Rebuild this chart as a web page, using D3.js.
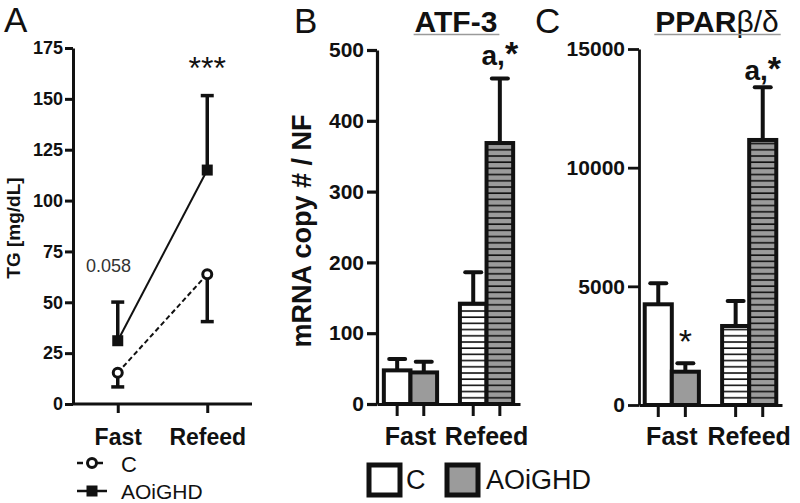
<!DOCTYPE html>
<html>
<head>
<meta charset="utf-8">
<script src="https://cdn.jsdelivr.net/npm/d3@7"></script>
<style>
  body { margin: 0; background: #fff; }
  svg, svg text { font-family: "Liberation Sans", Arial, sans-serif; }
</style>
</head>
<body>
<div id="chart"></div>
<script>
// groups and series
const groups = ["Fast", "Refeed"];
const series = ["C", "AOiGHD"];

// Panel A - TG [mg/dL], mean + error (C error points down, AOiGHD up)
const tgC = [15.4, 63.8];
const tgCErr = [7.0, 23.3];
const tgA = [31.1, 115.0];
const tgAErr = [19.0, 36.6];
const tgTicks = [0, 25, 50, 75, 100, 125, 150, 175];

// Panel B - ATF-3
const atfC = [47.5, 141.7];
const atfCErr = [16.0, 44.3];
const atfA = [44.6, 368.6];
const atfAErr = [15.1, 91.0];
const atfTicks = [0, 100, 200, 300, 400, 500];

// Panel C - PPARb/d
const pparC = [4243, 3329];
const pparCErr = [885, 1054];
const pparA = [1403, 11167];
const pparAErr = [354, 2221];
const pparTicks = [0, 5000, 10000, 15000];

const ink = "#111";
const grey = "#9b9b9b";

const svg = d3.select("#chart")
  .append("svg")
  .attr("width", 800)
  .attr("height", 503);

// hatch patterns for refeed bars
const defs = svg.append("defs");
[["hatchWhite", "#fff"], ["hatchGrey", grey]].forEach(([id, bg]) => {
  const p = defs.append("pattern")
    .attr("id", id)
    .attr("patternUnits", "userSpaceOnUse")
    .attr("width", 10)
    .attr("height", 6.2);
  p.append("rect").attr("width", 10).attr("height", 6.2).attr("fill", bg);
  p.append("line")
    .attr("x1", 0).attr("x2", 10)
    .attr("y1", 1).attr("y2", 1)
    .attr("stroke", ink).attr("stroke-width", 1.6);
});

function styleAxis(g, fontSize, sw) {
  g.attr("font-family", null).attr("font-size", null);
  g.select(".domain").attr("stroke", ink).attr("stroke-width", sw);
  g.selectAll(".tick line").attr("stroke", ink).attr("stroke-width", sw);
  g.selectAll(".tick text")
    .attr("fill", ink)
    .style("font-size", fontSize + "px")
    .style("font-weight", "bold");
}

// panel letters
[["A", 4, 32], ["B", 294, 33], ["C", 535, 33]].forEach(([t, x, y]) => {
  svg.append("text").attr("x", x).attr("y", y)
    .style("font-size", "35px").attr("fill", ink).text(t);
});

// ---------------- Panel A ----------------
const yA = d3.scaleLinear().domain([0, 175]).range([404, 48]);
const xA = d3.scalePoint().domain(groups).range([73, 252]).padding(0.5);

svg.append("g")
  .attr("transform", "translate(73,0)")
  .call(d3.axisLeft(yA).tickValues(tgTicks).tickSize(8).tickPadding(2).tickSizeOuter(0))
  .call(g => styleAxis(g, 18, 3));

svg.append("g")
  .attr("transform", "translate(0,404)")
  .call(d3.axisBottom(xA).tickSize(9).tickPadding(16).tickSizeOuter(0))
  .call(g => styleAxis(g, 23, 3))
  .call(g => g.select(".domain").attr("d", "M73,0H252"));

svg.append("text")
  .attr("transform", "translate(20,228) rotate(-90)")
  .attr("text-anchor", "middle")
  .style("font-size", "19px").style("font-weight", "bold")
  .attr("fill", ink)
  .text("TG [mg/dL]");

const lineA = d3.line().x((d, i) => xA(groups[i])).y(d => yA(d));

// error bars
function tgErr(vals, errs, dir) {
  vals.forEach((v, i) => {
    const x = xA(groups[i]);
    const y1 = yA(v + dir * errs[i]);
    svg.append("line")
      .attr("x1", x).attr("x2", x)
      .attr("y1", yA(v)).attr("y2", y1)
      .attr("stroke", ink).attr("stroke-width", 3.5);
    svg.append("line")
      .attr("x1", x - 6.5).attr("x2", x + 6.5)
      .attr("y1", y1).attr("y2", y1)
      .attr("stroke", ink).attr("stroke-width", 3.5);
  });
}
tgErr(tgA, tgAErr, 1);
tgErr(tgC, tgCErr, -1);

svg.append("path").datum(tgA)
  .attr("d", lineA).attr("fill", "none")
  .attr("stroke", ink).attr("stroke-width", 2);
svg.append("path").datum(tgC)
  .attr("d", lineA).attr("fill", "none")
  .attr("stroke", ink).attr("stroke-width", 2)
  .attr("stroke-dasharray", "5,3");

svg.selectAll(".sqA").data(tgA).enter().append("rect")
  .attr("x", (d, i) => xA(groups[i]) - 5.5)
  .attr("y", d => yA(d) - 5.5)
  .attr("width", 11).attr("height", 11)
  .attr("fill", ink);
svg.selectAll(".cirC").data(tgC).enter().append("circle")
  .attr("cx", (d, i) => xA(groups[i]))
  .attr("cy", d => yA(d))
  .attr("r", 4.5)
  .attr("fill", "#fff").attr("stroke", ink).attr("stroke-width", 3);

svg.append("text").attr("x", xA("Refeed")).attr("y", 79)
  .attr("text-anchor", "middle")
  .style("font-size", "32px").attr("fill", ink).text("***");
svg.append("text").attr("x", 86).attr("y", 272)
  .style("font-size", "18px").attr("fill", "#333").text("0.058");

// legend A
const legA = svg.append("g");
legA.append("line").attr("x1", 77).attr("x2", 107).attr("y1", 463).attr("y2", 463)
  .attr("stroke", ink).attr("stroke-width", 2.5).attr("stroke-dasharray", "6,4");
legA.append("circle").attr("cx", 92).attr("cy", 463).attr("r", 4.5)
  .attr("fill", "#fff").attr("stroke", ink).attr("stroke-width", 3);
legA.append("text").attr("x", 121).attr("y", 472)
  .style("font-size", "22px").attr("fill", ink).text(series[0]);
legA.append("line").attr("x1", 77).attr("x2", 107).attr("y1", 491).attr("y2", 491)
  .attr("stroke", ink).attr("stroke-width", 2.5);
legA.append("rect").attr("x", 86.5).attr("y", 485.5).attr("width", 11).attr("height", 11)
  .attr("fill", ink);
legA.append("text").attr("x", 121).attr("y", 499)
  .style("font-size", "21px").attr("fill", ink).text(series[1]);

// ---------------- Bar panels ----------------
function barPanel(opt) {
  const y = d3.scaleLinear().domain(opt.domain).range([opt.y0, opt.y1]);
  const x = d3.scaleBand().domain(groups).range([opt.ax, opt.xEnd])
    .paddingInner(0.3).paddingOuter(opt.outer);
  const xs = d3.scaleBand().domain(series).range([0, x.bandwidth()]);

  svg.append("g")
    .attr("transform", `translate(${opt.ax},0)`)
    .call(d3.axisLeft(y).tickValues(opt.ticks).tickFormat(d3.format("d"))
      .tickSize(opt.tick).tickPadding(3).tickSizeOuter(0))
    .call(g => styleAxis(g, opt.tickFont, opt.sw));

  const rows = [];
  groups.forEach((grp, i) => {
    rows.push({ grp, s: "C", v: opt.c[i], e: opt.cErr[i], i });
    rows.push({ grp, s: "AOiGHD", v: opt.a[i], e: opt.aErr[i], i });
  });
  const fillOf = d => d.i === 0
    ? (d.s === "C" ? "#fff" : grey)
    : (d.s === "C" ? "url(#hatchWhite)" : "url(#hatchGrey)");
  const cx = d => x(d.grp) + xs(d.s) + xs.bandwidth() / 2;

  // error bars (upwards)
  rows.forEach(d => {
    const yt = y(d.v + d.e);
    svg.append("line")
      .attr("x1", cx(d)).attr("x2", cx(d))
      .attr("y1", y(d.v)).attr("y2", yt)
      .attr("stroke", ink).attr("stroke-width", 4);
    svg.append("line")
      .attr("x1", cx(d) - 8).attr("x2", cx(d) + 8)
      .attr("y1", yt).attr("y2", yt)
      .attr("stroke", ink).attr("stroke-width", 4)
      .attr("stroke-linecap", "round");
  });

  svg.selectAll(null).data(rows).enter().append("rect")
    .attr("x", d => x(d.grp) + xs(d.s))
    .attr("y", d => y(d.v))
    .attr("width", xs.bandwidth())
    .attr("height", d => y(0) - y(d.v))
    .attr("fill", fillOf)
    .attr("stroke", ink).attr("stroke-width", 4);

  // x axis with group labels
  svg.append("g")
    .attr("transform", `translate(0,${opt.y0})`)
    .call(d3.axisBottom(x).tickSize(0).tickPadding(opt.labPad).tickSizeOuter(0))
    .call(g => styleAxis(g, 25, opt.sw));
  // tick marks under each bar
  svg.selectAll(null).data(rows).enter().append("line")
    .attr("x1", cx).attr("x2", cx)
    .attr("y1", opt.y0).attr("y2", opt.y0 + 12)
    .attr("stroke", ink).attr("stroke-width", 3);

  // title with underline
  const t = svg.append("text")
    .attr("x", opt.titleX).attr("y", 32)
    .attr("text-anchor", "middle")
    .style("font-size", "30px").attr("fill", ink);
  opt.title.forEach(([s, w]) => t.append("tspan").style("font-weight", w).text(s));
  const bb = t.node().getBBox();
  svg.append("line")
    .attr("x1", bb.x - 1).attr("x2", bb.x + bb.width + 2)
    .attr("y1", 34.5).attr("y2", 34.5)
    .attr("stroke", "#9a9a9a").attr("stroke-width", 1.5);

  // significance above refeed AOiGHD
  const top = rows[3];
  const st = svg.append("text")
    .attr("x", cx(top)).attr("y", y(top.v + top.e) - opt.sigGap)
    .attr("text-anchor", "middle")
    .style("font-weight", "bold").attr("fill", ink);
  st.append("tspan").style("font-size", "28px").text("a,");
  st.append("tspan").style("font-size", "34px").text("*");

  return { x, xs, y, rows, cx };
}

// Panel B
barPanel({
  domain: [0, 500], y0: 404, y1: 50, ax: 377, xEnd: 520, outer: 0.09,
  ticks: atfTicks, tick: 10, tickFont: 21, sw: 3.2, labPad: 23,
  c: atfC, cErr: atfCErr, a: atfA, aErr: atfAErr,
  title: [["ATF-3", "bold"]], titleX: 456, sigGap: 14
});

svg.append("text")
  .attr("transform", "translate(311,231) rotate(-90)")
  .attr("text-anchor", "middle")
  .style("font-size", "27px").style("font-weight", "bold")
  .attr("fill", ink)
  .text("mRNA copy # / NF");

// Panel C
const pc = barPanel({
  domain: [0, 15000], y0: 405, y1: 49, ax: 639, xEnd: 782, outer: 0.074,
  ticks: pparTicks, tick: 11, tickFont: 21, sw: 2.8, labPad: 22,
  c: pparC, cErr: pparCErr, a: pparA, aErr: pparAErr,
  title: [["PPAR", "bold"], ["\u03b2/\u03b4", "normal"]], titleX: 717, sigGap: 7
});

// star over fast AOiGHD in panel C
const fa = pc.rows[1];
svg.append("text")
  .attr("x", pc.cx(fa)).attr("y", pc.y(fa.v + fa.e) - 10)
  .attr("text-anchor", "middle")
  .style("font-size", "34px").attr("fill", ink).text("*");

// legend for B/C
const legB = svg.append("g");
legB.append("rect").attr("x", 369).attr("y", 465).attr("width", 31).attr("height", 30)
  .attr("fill", "#fff").attr("stroke", ink).attr("stroke-width", 5);
legB.append("text").attr("x", 406).attr("y", 489)
  .style("font-size", "27px").attr("fill", ink).text(series[0]);
legB.append("rect").attr("x", 447).attr("y", 465).attr("width", 31).attr("height", 30)
  .attr("fill", grey).attr("stroke", ink).attr("stroke-width", 5);
legB.append("text").attr("x", 486).attr("y", 489)
  .style("font-size", "27px").attr("fill", ink).text(series[1]);
</script>
</body>
</html>
